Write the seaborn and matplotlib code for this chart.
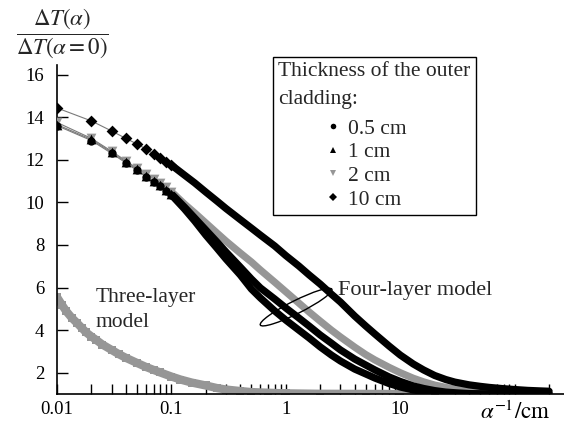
import numpy as np
import pandas as pd
import matplotlib
matplotlib.use("Agg")
import matplotlib.pyplot as plt
import matplotlib.transforms as mtransforms
from matplotlib.patches import Ellipse
from matplotlib.lines import Line2D
import seaborn as sns

# ---------------- data ----------------
x_four = [0.01, 0.02, 0.03, 0.04, 0.05, 0.06, 0.07, 0.08, 0.09, 0.1,
          0.13, 0.16, 0.2, 0.25, 0.3, 0.4, 0.5, 0.6, 0.8, 1,
          1.3, 1.6, 2, 2.5, 3, 4, 5, 6, 8, 10,
          13, 16, 20, 25, 30, 40, 50, 60, 80, 100,
          130, 160, 200]
y_05cm = [13.6, 12.9, 12.3, 11.85, 11.5, 11.2, 10.95, 10.75, 10.55, 10.35,
          9.69, 9.12, 8.46, 7.85, 7.34, 6.59, 5.93, 5.51, 4.90, 4.47,
          4.00, 3.63, 3.21, 2.83, 2.55, 2.17, 1.94, 1.75, 1.49, 1.33,
          1.19, 1.12, 1.07, 1.03, 1.02, 1.0, 1.0, 1.0, 1.0, 1.0,
          1.0, 1.0, 1.0]
y_1cm = [13.65, 12.95, 12.35, 11.9, 11.55, 11.25, 11.0, 10.8, 10.6, 10.4,
         9.78, 9.26, 8.70, 8.14, 7.67, 6.96, 6.40, 5.98, 5.46, 5.04,
         4.57, 4.19, 3.77, 3.39, 3.07, 2.64, 2.36, 2.13, 1.80, 1.59,
         1.38, 1.26, 1.16, 1.09, 1.06, 1.02, 1.01, 1.0, 1.0, 1.0,
         1.0, 1.0, 1.0]
y_2cm = [13.75, 13.0, 12.4, 11.95, 11.6, 11.33, 11.1, 10.9, 10.7, 10.5,
         9.92, 9.50, 9.03, 8.56, 8.18, 7.62, 7.20, 6.82, 6.25, 5.80,
         5.27, 4.85, 4.42, 4.00, 3.68, 3.20, 2.85, 2.60, 2.25, 2.00,
         1.74, 1.57, 1.42, 1.31, 1.23, 1.15, 1.10, 1.08, 1.05, 1.03,
         1.02, 1.01, 1.0]
y_10cm = [14.43, 13.82, 13.35, 13.0, 12.74, 12.5, 12.27, 12.08, 11.9, 11.75,
          11.28, 10.91, 10.48, 10.06, 9.71, 9.19, 8.79, 8.46, 7.95, 7.50,
          7.01, 6.59, 6.16, 5.69, 5.32, 4.66, 4.19, 3.82, 3.25, 2.83,
          2.41, 2.13, 1.87, 1.68, 1.56, 1.43, 1.36, 1.31, 1.25, 1.21,
          1.17, 1.15, 1.13]

x_three = [0.01, 0.011, 0.012, 0.0135, 0.015, 0.0165, 0.018, 0.02, 0.022, 0.025,
           0.03, 0.035, 0.04, 0.05, 0.06, 0.07, 0.08, 0.1, 0.12, 0.15,
           0.2, 0.25, 0.3, 0.4, 0.5, 0.7, 1, 2, 5, 10, 20]
y_three = [5.55, 5.20, 4.90, 4.57, 4.33, 4.10, 3.89, 3.70, 3.54, 3.32,
           3.07, 2.86, 2.70, 2.46, 2.27, 2.13, 2.01, 1.82, 1.68, 1.54,
           1.40, 1.28, 1.21, 1.14, 1.09, 1.06, 1.03, 1.01, 1.005, 1.0, 1.0]

legend_labels = ["0.5 cm", "1 cm", "2 cm", "10 cm"]
x_ticks = [0.01, 0.1, 1, 10, 100]
x_ticklabels = ["0.01", "0.1", "1", "10", r"$\alpha^{-1}/\mathrm{cm}$"]
y_ticks = [2, 4, 6, 8, 10, 12, 14, 16]

# ---------------- style ----------------
sns.set_theme(style="ticks")
plt.rcParams["font.family"] = ["Liberation Serif", "DejaVu Serif"]
plt.rcParams["mathtext.fontset"] = "stix"

GRAY = "#969696"
BLACK = "#000000"

series = [
    ("0.5 cm", y_05cm, BLACK, "o", 6),
    ("1 cm", y_1cm, BLACK, "^", 7),
    ("2 cm", y_2cm, GRAY, "v", 7),
    ("10 cm", y_10cm, BLACK, "D", 6),
]

fig = plt.figure(figsize=(5.64, 4.30), dpi=100)
ax = fig.add_axes([0.101, 0.0837, 0.899, 0.7653])

# three-layer model
df3 = pd.DataFrame({"x": x_three, "y": y_three})
sns.lineplot(data=df3, x="x", y="y", ax=ax, color=GRAY, linewidth=6,
             marker="s", markersize=6, markeredgewidth=0, zorder=2)

# four-layer model curves
order = [2, 1, 0, 3]
for i in order:
    lab, yv, col, mk, ms = series[i]
    df = pd.DataFrame({"x": x_four, "y": yv})
    thick = df[df["x"] >= 0.1]
    sparse = df[df["x"] <= 0.1]
    sns.lineplot(data=sparse, x="x", y="y", ax=ax, color="#7a7a7a", linewidth=0.8,
                 zorder=3)
    sns.lineplot(data=thick, x="x", y="y", ax=ax, color=col, linewidth=5.2,
                 zorder=4)
    sns.scatterplot(data=sparse, x="x", y="y", ax=ax, color=col, marker=mk,
                    s=ms ** 2, linewidth=0, zorder=5)

ax.set_xscale("log")
ax.set_xlim(0.01, 270)
ax.set_ylim(1, 16.45)

ax.set_xticks(x_ticks)
ax.set_xticklabels(x_ticklabels)
ax.xaxis.set_minor_locator(matplotlib.ticker.LogLocator(base=10, subs=np.arange(2, 10)))
ax.xaxis.set_minor_formatter(matplotlib.ticker.NullFormatter())
ax.set_yticks(y_ticks)
ax.set_yticklabels([str(v) for v in y_ticks])
ax.tick_params(axis="both", which="both", direction="in", color="black",
               width=1, labelsize=13.5, labelcolor="black")
ax.tick_params(axis="x", which="both", length=7, pad=5)
ax.tick_params(axis="y", which="both", length=8, pad=9)
ax.get_xticklabels()[-1].set_fontsize(16.5)
ax.set_xlabel("")
ax.set_ylabel("")

for side in ["top", "right"]:
    ax.spines[side].set_visible(False)
for side in ["left", "bottom"]:
    ax.spines[side].set_color("black")
    ax.spines[side].set_linewidth(1.2)

# y label as fraction
fig.text(62 / 564, 1 - 33 / 430,
         r"$\dfrac{\Delta T(\alpha)}{\Delta T(\alpha=0)}$",
         ha="center", va="center", fontsize=16.5)

# annotations
ax.text(0.0219, 4.94, "Three-layer\nmodel", ha="left", va="center",
        fontsize=15.5, linespacing=1.45)
ax.text(2.85, 5.88, "Four-layer model", ha="left", va="center", fontsize=16)

tr = fig.dpi_scale_trans + mtransforms.ScaledTranslation(1.23, 5.08, ax.transData)
ell = Ellipse((0, 0), width=0.80, height=0.13, angle=26.6, fill=False,
              edgecolor="black", linewidth=1.0, transform=tr, zorder=6)
ax.add_patch(ell)

# legend
handles = []
for lab, yv, col, mk, ms in series:
    handles.append(Line2D([], [], linestyle="none", marker=mk, color=col,
                          markersize=4.5 if mk != "o" else 4, markeredgewidth=0))
FS = 15.5
leg = ax.legend(handles, legend_labels, title="Thickness of the outer\ncladding:",
                loc="upper left", bbox_to_anchor=(273 / 564, 1 - 57 / 430),
                bbox_transform=fig.transFigure, borderaxespad=0,
                fontsize=FS, title_fontsize=FS, frameon=True, fancybox=False,
                framealpha=1, edgecolor="black", handlelength=5.08,
                handletextpad=-1.83, labelspacing=0.17, borderpad=0.25,
                alignment="left")
leg.get_frame().set_linewidth(1.0)
leg.get_title().set_linespacing(1.6)
leg._legend_box.sep = 7

fig.savefig("out.png", dpi=100)
